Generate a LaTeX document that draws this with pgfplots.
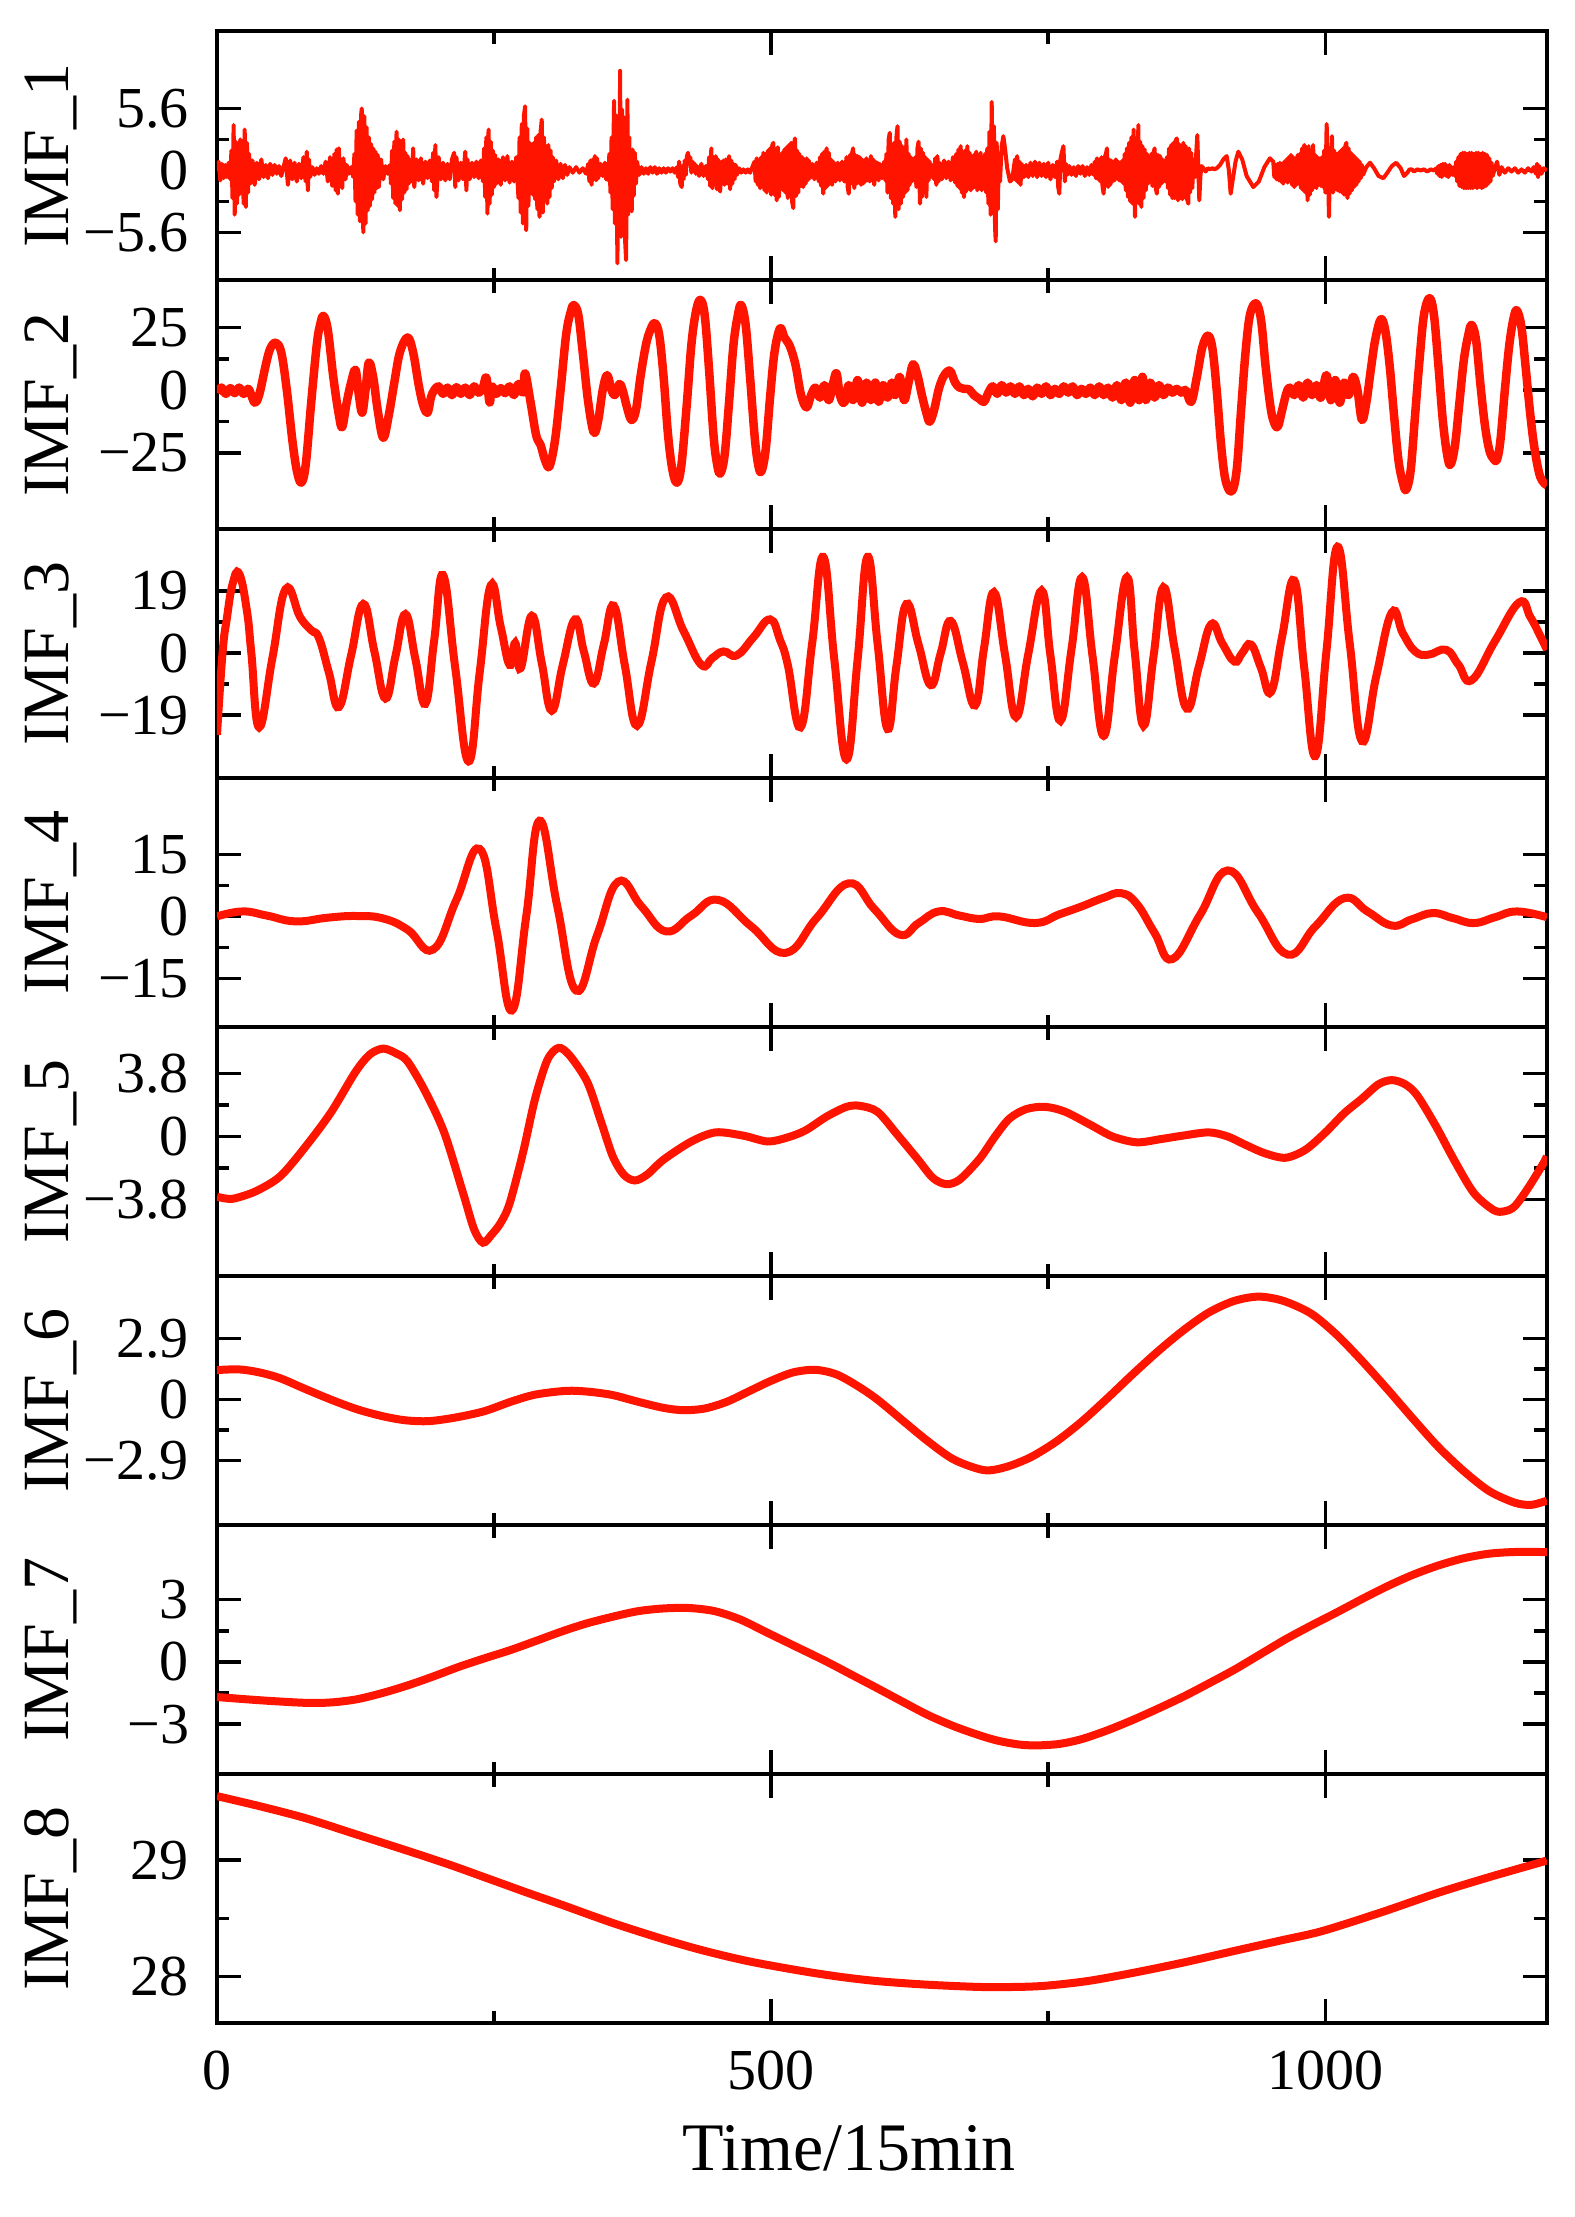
\documentclass[border=0pt]{standalone}
\usepackage{fontspec}
\setmainfont{Liberation Serif}
\usepackage{pgfplots}
\pgfplotsset{compat=1.18}
\usepgfplotslibrary{groupplots}
\definecolor{imf}{RGB}{255,20,0}
\begin{document}
\begin{tikzpicture}
\begin{groupplot}[
  group style={group size=1 by 8, vertical sep=0pt, xticklabels at=edge bottom, group name=group},
  width=266pt, height=49.8pt, scale only axis,
  xmin=0, xmax=1200,
  xtick={0,500,1000}, minor xtick={250,750},
  xticklabels={0,500,1000},
  tick align=inside,
  major tick length=4.8pt, minor tick length=2.5pt,
  every tick/.style={black, line width=0.7pt},
  axis line style={line width=0.7pt},
  tick label style={font=\fontsize{11.6}{13}\selectfont},
  yticklabel style={inner sep=0pt, xshift=-5.4pt},
  xticklabel style={inner sep=0pt, yshift=-5.4pt},
  label style={font=\fontsize{13.2}{15}\selectfont},
  ylabel style={at={(axis description cs:-0.112,0.5)}, anchor=base},
  xlabel style={font=\fontsize{13.6}{15}\selectfont, at={(axis description cs:0.5,0)}, anchor=base, yshift=-29.4pt, xshift=-6.6pt},
]
% ---------------- IMF_1
\nextgroupplot[ylabel={IMF\_1}, ymin=-9.9, ymax=12.6, ytick={-5.6,0,5.6}, yticklabels={−5.6,0,5.6}, minor ytick={-2.8,2.8}]
\addplot[imf, line width=0.8pt, line join=round] coordinates {
(0,0)(1.5,0.8)(3,-0.9)(4.5,0.6)(6,-0.7)(7.5,0.5)(9,-0.6)(10.5,0.7)(12,-0.8)
(13,1.8)(14,-2.5)(15,4.1)(16,-4.0)(17,2.6)(18,-3.0)(19,1.9)(20,-2.2)(21,2.8)(22,-1.8)(23,2.4)(24,-3.0)(25,3.7)(26,-3.3)(27,2.5)(28,-2.0)(29,1.5)(30,-1.2)
(32,0.9)(34,-1.3)(36,0.7)(38,-0.8)(40,1.0)(42,-0.6)(44,0.5)(46,-0.7)(48,0.6)(50,-0.4)(52,0.5)(54,-0.3)(56,0.4)(58,-0.5)(60,0.3)
(62,1.1)(64,-1.3)(66,0.9)(68,-0.8)(70,0.7)(72,-1.0)(74,0.6)(76,-0.7)(78,1.2)(80,-1.0)(81,1.7)(82,-1.8)(83,1.0)(84,-0.6)
(86,0.3)(88,-0.4)(90,0.2)(92,-0.3)(94,0.4)(96,-0.3)
(98,0.8)(100,-1.0)(102,1.2)(104,-1.4)(106,1.5)(107,-1.8)(108,1.9)(109,-2.1)(110,2.0)(111,-1.3)(112,1.0)(113,-1.6)(114,1.1)(116,-0.8)(117,0.5)
(119,-0.3)(121,0.3)(123,-0.6)
(124,1.5)(125,-2.8)(126,3.6)(127,-4.0)(128,4.4)(129,-4.6)(130,5.0)(130.6,5.6)(132,-5.6)(133,4.9)(134,-4.8)(135,3.9)(136,-3.6)(137,3.0)(138,-3.2)(139,2.4)(140,-2.6)(141,2.0)(142,-2.0)(143,1.7)(144,-1.6)(145,1.4)(146,-1.5)(148,1.0)(150,-0.8)
(152,0.4)(154,-0.3)(156,0.5)
(157,-1.2)(158,1.8)(159,-2.5)(160,2.6)(161,-3.0)(162,3.5)(163,-3.2)(164,2.8)(165,-3.6)(166,2.4)(167,-2.6)(168,2.8)(169,-2.0)(170,1.6)(171,-1.7)(172,1.3)(173,-1.2)(174,1.0)
(176,-1.0)(177,2.0)(178,-1.5)(180,1.0)(182,-0.9)(184,1.1)(186,-1.2)(188,0.8)(190,-0.7)(192,0.9)(194,-1.0)(195,1.6)(196,-1.8)(197,2.3)(198,-2.4)
(200,1.2)(202,-0.8)(204,0.7)(206,-0.9)(208,0.6)(210,-0.8)(212,1.0)(214,1.6)(215,-1.5)(216,1.2)(218,-0.9)(220,0.7)(222,-0.8)(224,1.7)(225,-1.8)(226,1.0)(228,-0.8)
(230,0.7)(232,-0.6)(234,0.8)(236,-0.7)(238,0.9)(240,-1.0)
(241,2.0)(242,-2.4)(243,3.0)(244,-3.9)(245,3.7)(246,-3.0)(247,2.6)(248,-2.2)(249,1.8)(250,-1.5)(251,1.4)(252,-1.2)
(254,1.0)(256,-1.3)(258,1.2)(260,-0.9)(262,1.3)(264,-1.1)(266,0.8)(268,-1.0)(270,1.2)
(272,-2.5)(273,3.0)(274,-3.8)(275,4.2)(276,-4.8)(277,5.0)(278,5.8)(279,-5.4)(280,3.8)(281,-3.2)(282,2.5)
(283,-2.0)(284,1.5)(285,-2.2)(286,2.5)(287,-2.6)(288,3.0)(289,-3.5)(290,3.2)(291,-4.2)(292,3.5)(293,4.6)(294,-3.8)(295,3.0)(296,-2.6)(297,2.2)(298,-3.0)(299,2.3)(300,-2.4)(301,1.8)(302,-1.6)(303,1.2)(304,-1.0)
(306,0.9)(308,-0.8)(310,0.6)(312,-0.7)(314,0.5)(316,-0.4)(318,0.3)
(321,-0.2)(324,0.3)(327,-0.2)(330,0.2)(333,-0.3)
(335,0.6)(336,-1.0)(337,0.9)(338,-1.3)(339,1.0)(340,-0.8)(341,1.3)(342,-0.9)(343,1.1)(344,-0.7)(346,0.6)(348,-0.5)
(350,0.7)(351,-0.8)(352,0.6)(353,-0.9)
(354,1.5)(355,-2.0)(356,3.0)(357,-3.5)(358,4.5)(358.3,6.3)(359,-4.8)(360,5.0)(361.3,-8.4)(362,4.0)(363,-5.5)(363.7,9.0)(364.5,-6.0)(365.5,5.5)(366.5,-5.0)(367.5,4.8)(368.3,-6.5)(369.1,-8.1)(370.3,6.4)(371,-4.0)(372,3.0)(373,-2.8)(374.2,-3.7)(375,1.9)(376,-2.3)(377,1.6)(378,-1.2)(379,0.8)
(381,-0.4)(383,0.3)(385,-0.3)(387,0.2)(389,-0.3)(391,0.3)(393,-0.2)(395,0.3)(397,-0.3)(399,0.2)(401,-0.2)(403,0.2)(405,-0.2)(407,0.2)(409,-0.1)(411,0.2)(413,-0.2)(415,0.3)
(416,-0.6)(417,0.8)(418,-1.2)(419.3,-1.5)(420,0.4)(421,-0.8)(422,0.9)(423,-0.4)(424,1.3)(425,1.6)(426,0.6)(427,1.2)(428,-0.2)(429,0.8)(430,0.3)(431,0.6)(432,-0.3)(433,0.4)
(435,-0.5)(437,0.6)(439,-0.5)(441,0.4)
(443,-0.8)(444,1.2)(445,-1.4)(446,2.0)(447,-1.6)(448,1.2)(449,-1.0)(450,1.3)(451,-1.7)(452,1.0)(453,-1.5)(454,-1.9)(455,0.8)(456,-1.2)(457,0.9)(458,-1.3)(459,1.0)(461,-1.2)(462,1.3)(463,-1.7)(464,0.9)(465,-1.2)(466,0.6)(467,-0.8)(468,0.5)(469,-0.4)
(471,0.2)(473,-0.2)(475,0.1)(477,-0.2)(479,0.1)(481,-0.2)(483,0.3)
(485,0.8)(486,-1.0)(487,1.1)(488,-1.3)(489,0.9)(490,-1.6)(491,1.2)(492,-1.4)(493,1.6)(494,-1.8)(495,1.5)(496,-2.0)(497,1.8)(498,-1.7)(499,2.0)(500,-2.2)(501,2.3)(502,2.5)(503,-2.2)(504,1.9)(505,-2.7)(506,2.1)(507,-2.4)(508,1.4)(509,-1.2)(510,1.6)(511,-1.8)(512,1.9)(513,-2.0)(514,2.1)(515,-2.5)(516,2.3)(517,-2.2)(518,2.5)(519,-2.9)(520,-3.4)(521,2.6)(521.5,2.9)(522.5,-2.3)(523.5,1.8)(524.5,-2.0)(525.5,1.5)(527,-1.4)(528,1.2)(529,-1.5)(530,1.0)(531,-1.2)(532,1.1)(533,-0.9)(534,0.9)(535,-0.7)
(537,0.6)(539,-0.8)(541,0.7)(543,-1.0)(544,1.2)(545,-1.4)(546,1.5)(547,-2.1)(548,1.7)(549,-1.6)(550,2.0)(551,-1.4)(552,1.6)(553,-1.2)(554,1.0)(555,-1.3)(556,0.8)(558,-1.0)(560,0.7)(562,-0.9)(564,0.8)(566,-1.0)(568,1.2)(569,-1.5)(570,-2.1)(571,1.4)(572,-1.2)(573,1.6)(574,2.0)(575,-1.6)(576,1.4)(577,-1.2)(578,1.3)(579,-1.1)(580,1.2)(581,-1.3)(582,1.0)(583,-1.2)(584,0.9)(585,-1.0)(586,1.1)(587,-0.9)(588,0.8)(589,-1.0)(590,1.3)(591,-0.9)(592,1.0)(593,-1.3)(594,0.8)(595,-0.8)(596,0.7)(597,-0.9)(598,0.6)(600,-0.7)(602,0.8)(603,-0.9)
(604,1.5)(605,-2.0)(606,2.8)(607,3.4)(608,-2.5)(609,2.0)(610,-3.0)(611,2.5)(612,-4.2)(613,3.0)(614,4.0)(615,-3.5)(616,2.6)(617,-3.0)(618,2.2)(619,-2.4)(620,1.6)(621,-2.0)(622,2.8)(623,-1.8)(624,1.5)(625,-1.3)(626,1.2)(627,-1.0)(628,0.8)
(629,-0.6)(630,1.2)(631,-1.5)(632,2.0)(633,2.6)(634.3,-3.0)(635,2.0)(636,-2.4)(637,1.6)(638,-1.8)(639,1.2)(640,-2.4)(641,1.0)(642,-0.9)(643,0.8)(644,-0.6)(645,0.5)
(647,-0.8)(648,1.1)(649,-1.3)(650,1.3)(651,-1.0)(652,0.7)(654,-0.8)(656,0.9)(658,-0.7)(660,0.8)(662,-0.9)(664,1.2)(666,-1.1)(667,1.5)(668,-1.4)(669,1.9)(670,-1.6)(671,2.2)(672,-2.0)(673,1.6)(674,-2.4)(675,1.8)(676,-1.9)(677,2.2)(678,-1.5)(679,1.6)(680,-1.8)(681,1.3)(682,-1.6)(683,1.4)(684,-1.5)(685,1.7)(686,-1.8)(687,1.3)(688,-1.4)(689,1.6)(690,-1.8)(691,1.2)(692,-1.3)(693,1.5)(694,-2.0)
(695,2.0)(696,-3.0)(697,3.5)(698,-4.0)(699,6.2)(700,-3.5)(701,4.0)(702,-5.1)(702.6,-6.4)(703.5,2.5)(704.5,-3.5)(705.5,1.5)(706.5,-1.0)(708,2.2)(709.5,3.1)(711,2.0)
(713,0.2)(715.5,-1.0)(717.5,-0.8)(719,0.3)
(720,1.0)(721,-0.9)(722,1.3)(723,-1.1)(724,0.8)(725,-1.3)(726,0.6)(728,-0.6)(730,0.5)(732,-0.6)(734,0.7)(736,-0.5)(738,0.8)(740,-0.6)(742,0.7)(744,-0.5)(746,0.6)(748,-0.6)(750,0.7)(752,-0.8)(754,0.5)(756,-0.6)(758,0.8)(759,-1.5)(760,-2.1)(761,1.0)(762,1.5)(763.7,2.2)(765,-1.0)(766,0.6)(767,-0.4)
(769,0.4)(771,-0.4)(773,0.3)(775,-0.5)(777,0.4)(779,-0.3)(781,0.4)(783,-0.5)(785,0.3)(787,-0.4)(789,0.5)(791,-0.4)
(792,0.8)(793,-0.7)(794,1.1)(795,-0.8)(796,0.9)(797,-1.0)(798,1.2)(799,-1.5)(800,-2.1)(801,1.2)(802,1.5)(803,2.0)(804,-1.5)(805,1.0)(806,-1.3)(807,0.9)(808,-1.0)(809,0.8)(810,-0.9)(811,1.0)(812,-0.7)(813,0.8)(814,-0.9)(815,0.7)(816,-1.0)(817,0.9)
(818,-1.2)(819,1.5)(820,-1.8)(821,2.0)(822,-2.4)(823,2.5)(824,-2.8)(825,3.0)(826,-3.0)(827,3.7)(828.3,-4.2)(829,2.9)(830,-2.8)(831.3,4.1)(832,-3.0)(833,2.6)(834,-3.3)(835,2.2)(836,-2.5)(837,1.9)(838,-1.8)(839,1.5)
(840,-1.2)(841,1.2)(842,-1.0)(843,1.5)(844,-1.4)(845,1.6)(846,2.0)(847,-1.6)(848,-2.1)(849,1.4)(850,-1.5)(851,1.3)(852,-1.2)(853,1.0)(854,-1.0)(855,0.9)(856,-1.0)(857,1.2)
(858,-1.6)(859,2.0)(860,-2.2)(861,2.3)(862,-2.5)(863,2.5)(864,-2.5)(865,2.7)(866,2.9)(867,-2.7)(868,2.4)(869,-2.5)(870,2.2)(871,-2.6)(872,2.5)(873,-2.4)(874,2.2)(875,-2.5)(876.4,-3.0)(877,2.0)(878,-2.0)(879,1.6)(880,-1.6)(881,1.0)
(882.5,-0.6)(883.5,1.5)(884.5,3.2)(885.3,0.5)(886.3,-2.7)(887.3,-0.5)(888.3,0.4)
(890,0.2)(892,-0.1)(894,0.2)(896,0.1)(898,0.2)(900,0.1)(902,0.2)(905,0.5)(908,1.0)
(911,1.3)(913,0.0)(914.6,-2.1)(917,-0.5)(919,0.8)(921.5,1.7)(925,1.0)(929,-0.5)(935,-1.5)(940,-1.0)(945,0.3)(950,1.1)(953,0.8)
(954,-0.6)(955,0.5)(956,-0.8)(957,0.6)(958,-0.9)(959,0.7)(960,-1.0)(961,0.6)(962,-1.2)(963,0.8)(964,-0.9)(965,1.0)(966,-1.1)(967,1.2)(968,-1.0)(969,1.4)(970,-1.3)(971,1.2)(972,-1.5)(973,1.1)(974,-1.3)(975,1.4)(976,-1.2)(977,1.5)(978,-1.6)(979,2.0)(980,-1.8)(981,2.3)(982,-2.0)(983,2.1)(984,-2.7)(985,2.2)(986,-2.2)(987,1.6)(988,-1.8)(989,2.3)(990,-1.5)(991,1.4)(992,-1.6)(993,1.2)(994,-1.3)(995,1.1)(996,-1.4)(997,1.2)(998,-1.5)
(999,1.8)(1000,-2.0)(1001.2,4.2)(1002.2,1.0)(1003.3,-4.2)(1004.3,1.5)(1005,-1.6)(1006,3.1)(1007,-2.0)
(1008,1.8)(1009,-1.7)(1010,1.5)(1011,-1.8)(1012,1.6)(1013,-1.9)(1014,1.8)(1015,-2.0)(1016,2.0)(1017,-2.2)(1018,2.2)(1019,2.5)(1020,-2.5)(1021,2.0)(1022,-2.1)(1023,1.6)(1024,-1.8)(1025,1.4)(1026,-1.5)(1027,1.2)(1028,-1.3)(1029,1.0)(1030,-1.0)(1031,0.8)(1032,-0.7)(1033,0.5)(1034,-0.4)
(1037,0.3)(1040.3,0.7)(1044,0.2)(1048,-0.5)(1052.4,-0.7)(1056,-0.2)(1060,0.4)(1064,0.7)(1068,0.2)(1071,-0.5)(1074,-0.2)(1076,0.1)
(1078,0.1)(1080,-0.1)(1083,0.1)(1086,0.0)(1089,0.1)(1092,-0.1)(1095,0.1)(1098,0.0)(1100,0.2)
(1101,-0.3)(1102,0.4)(1103,-0.5)(1104,0.5)(1105,-0.6)(1106,0.6)(1107,-0.4)(1108,0.6)(1109,-0.5)(1110,0.4)(1111,-0.6)(1112,0.5)(1113,-0.4)(1114,0.3)(1115,-0.4)(1116,0.3)(1117,-0.5)
(1118,0.8)(1119,-1.0)(1120,1.2)(1121,-1.4)(1122,1.5)(1123,-1.5)(1124,1.6)(1125,-1.6)(1126,1.6)(1127,-1.6)(1128,1.5)(1129,-1.6)(1130,1.6)(1131,-1.6)(1132,1.6)(1133,-1.6)(1134,1.5)(1135,-1.5)(1136,1.6)(1137,-1.6)(1138,1.6)(1139,-1.5)(1140,1.5)(1141,-1.6)(1142,1.6)(1143,-1.5)(1144,1.5)(1145,-1.4)(1146,1.4)(1147,-1.2)(1148,1.1)(1149,-1.0)(1150,0.7)(1151,-0.5)
(1153,0.2)(1155,0.8)(1157,-0.4)(1159,0.3)(1162,-0.2)(1165,0.2)(1168,-0.1)(1171,0.2)(1174,-0.2)(1177,0.1)(1180,-0.2)(1183,0.2)(1186,-0.1)(1188,0.3)(1190,-0.3)(1191,0.6)(1192,-0.6)(1193,0.4)(1195,-0.3)(1197,0.2)(1200,0.0)
};
% ---------------- IMF_2
\nextgroupplot[ylabel={IMF\_2}, ymin=-55.4, ymax=43.9, ytick={-25,0,25}, yticklabels={−25,0,25}, minor ytick={-12.5,12.5}]
\addplot[imf, line width=1.7pt, smooth, tension=0.6, line join=round] coordinates {
(0,-1.0)(4,1.0)(8,-1.5)(12,0.8)(16,-1.2)(20,1.0)(24,-1.5)(28,0.5)(30,-0.8)(34,-5.0)(38,-2.0)
(44,10)(48,16.5)(53,18.9)(58,15)(63,0)(68,-20)(72,-32)(76,-36.9)(80,-30)(85,-5)(90,18)(93,26)(96,29.6)(100,24)(105,5)(110,-10)(113,-14.7)(117,-5)(121,3)(125,8.1)(128,-2)(131,-9.0)(134,0)(137,11.0)(141,5)(145,-8)(150,-19.0)(155,-10)(160,3)(165,15)(172,21.0)(177,15)(182,2)(186,-6)(190,-9.0)(193,-3)(196,0)
(200,1.5)(204,-1.5)(208,1.0)(212,-2.0)(216,1.2)(220,-1.5)(224,1.0)(228,-2.0)(232,1.5)(236,-1.0)(240,1.2)(243,5.0)(246,-5.0)(248,1.5)(252,-1.5)(256,0.8)(260,-1.2)(264,1.5)(268,-2.0)(272,2.5)(276,-1.0)
(278,6.7)(283,-5)(288,-18)(292,-21.9)(296,-28)(300,-30.4)(305,-20)(310,0)(315,22)(319,31)(322,33.9)(326,30)(330,15)(335,-5)(340,-16.9)(344,-12)(348,0)(352,6.0)(356,0)(359,-2)(363,2.4)(366,0)(370,-7)(374,-11.9)(378,-8)(382,5)(387,18)(391,24)(395,26.7)(399,22)(403,5)(407,-18)(411,-32)(415,-36.9)(419,-30)(424,-5)(428,18)(432,31)(436,36.0)(440,30)(444,8)(448,-18)(451,-29)(454,-33.3)(458,-26)(462,-5)(466,18)(470,30)(473,33.9)(477,26)(481,5)(485,-18)(488,-29)(491,-32.6)(495,-24)(499,-3)(503,15)(508,24.6)(512,21)(517,17.4)(522,10)(527,-2)(532,-6.9)(536,-2)(540,1.0)
(544,-3)(548,2)(552,-4)(556,3)(559,6.7)(562,-2)(566,-5)(570,2)(574,-4)(578,4)(582,-5)(586,3)(590,-4)(594,3)(597,-4.7)(601,2)(605,-3)(609,3)(612,-2)(616,5.3)(620,-4)(624,3)(628,10.3)(632,6)(636,-2)(640,-9)(643,-12.6)(647,-8)(651,0)(655,5)(659,7.4)(662,7.4)(666,3)(670,1)(674,0.5)(678.5,0.3)(683,-2)(688,-3.5)(692,-4.7)(696,-1)
(700,1.5)(704,-1.5)(708,2)(712,-1)(716,1.5)(720,-1.5)(724,1.5)(728,-2)(732,0.5)(736,-2.5)(740,1)(744,-1.5)(748,1.5)(752,-2)(756,0.5)(760,-1.5)(764,1.5)(768,-1)(772,1.5)(776,-2)(780,0.5)(784,-1.5)(788,1)(792,-2)(796,1.5)(800,-2)(804,1)(808,-3)(812,2)(816,-4)(820,3)(824,-5)(828,4)(832,-4)(835,5.3)(838,-4)(842,3)(846,-3)(850,2)(854,-2)(858,1)(862,-1)(866,0.5)(870,-1)(874,0)(879,-4.7)
(884,5)(889,17)(894,21.7)(898,17)(902,0)(906,-22)(910,-36)(915.5,-40.4)(920,-32)(924,-8)(928,15)(932,30)(937.5,34.6)(942,28)(946,10)(950,-5)(953,-12)(957,-14.7)(961,-8)(965,-1)(968,1.0)
(972,-2)(976,2)(980,-3)(984,3)(988,-2)(992,2)(996,-3)(1001,6.0)(1005,-4)(1009,4)(1013,-5)(1017,3)(1021,-2)(1025,5.3)(1029,0)(1033,-11.9)(1037,-5)(1041,8)(1045,20)(1050,28.2)(1054,24)(1058,10)(1062,-10)(1066,-28)(1070,-37)(1073,-39.7)(1077,-32)(1081,-10)(1085,12)(1089,30)(1094,36.7)(1098,30)(1102,10)(1106,-12)(1110,-26)(1113,-29.7)(1117,-22)(1121,-5)(1125,12)(1129,22)(1132,26.0)(1136,20)(1140,2)(1144,-14)(1148,-24)(1152,-27.6)(1155,-27.6)(1158,-20)(1162,0)(1166,18)(1170,29)(1173,31.7)(1177,25)(1181,8)(1185,-10)(1189,-24)(1194,-34.7)(1200,-38)
};
% ---------------- IMF_3
\nextgroupplot[ylabel={IMF\_3}, ymin=-38.2, ymax=37.9, ytick={-19,0,19}, yticklabels={−19,0,19}, minor ytick={-9.5,9.5}]
\addplot[imf, line width=1.6pt, smooth, tension=0.75] coordinates {
(0,-25)(5,0)(9,10.8)(14,21)(20,24.3)(27,12.9)(31,0)(38,-22.7)(50,-1.5)(62,19.6)(75,11)(85,7)(92,4.6)(101,-6)(110,-16.5)(121,-0.7)(132,15.0)(142,0.5)(152,-13.9)(161,-1)(170,11.9)(179,-1.8)(188,-15.5)(196,4)(204,23.8)(215,-4.6)(227,-33.1)(237,-6)(247,20.7)(256,8)(264,-3.6)(269,3.1)(274,-4.6)(284,11.4)(293,-3)(302,-17.6)(312,-3.6)(323,10.3)(331,0.5)(340,-9.3)(349,2.6)(358,14.5)(368,-3.8)(379,-22.2)(392,-2.6)(405,17.0)(421,6.7)(437,-3.6)(447,-1.5)(457,0.5)(469,-0.7)(484,4.8)(499,10.3)(508,4)(515,-3.6)
(526.5,-22.7)(537,3)(547,29.4)(557,-2)(568,-32.5)(578,-2)(587,29.4)(596,3)(605,-23.2)(613,-4)(622,15.0)(633,2.6)(644,-9.8)(653,0)(662,9.8)(673,-3)(684,-16.0)(692,1.3)(701,18.6)(711,-0.5)(721,-19.6)(732,-0.3)(744,19.1)(752,-0.8)(761,-20.7)(771,1.2)(780.6,23.2)(790,-1)(800,-25.3)(810,-1)(821,23.2)(828,0.5)(836,-22.2)(845,-1)(854,20.1)(864,1.5)(875,-17.0)(886,-4)(897,8.8)(907,3)(918,-2.6)(925,0)(933,2.6)(942,-4.6)(951,-11.9)(961,5)(972,22.2)(981,-4.6)(991,-31.5)(1001,0.5)(1011,32.5)(1022,3)(1033,-26.9)(1046,-7)(1060,12.4)(1070,6)(1081,0.5)(1093,-0.5)(1109,1.0)(1120,-3.5)(1132,-8.3)(1153,3.6)(1175,15.5)(1185,11)(1194,5.2)(1200,1)
};
% ---------------- IMF_4
\nextgroupplot[ylabel={IMF\_4}, ymin=-26.7, ymax=33.4, ytick={-15,0,15}, yticklabels={−15,0,15}, minor ytick={-7.5,7.5}]
\addplot[imf, line width=1.6pt, smooth, tension=0.75] coordinates {
(0,0)(23,1.2)(45,0.2)(71,-1.2)(100,-0.3)(126,0.1)(150,-0.5)(172,-3.2)(195,-8.0)(216,4)(237,16.3)(252,-3)(266,-22.7)(279,0)(291,23.1)(307,2.5)(324,-17.9)(343,-4.5)(362,8.4)(383,2.4)(405,-3.6)(428,0.2)(452,4.0)(482,-2.4)(513,-8.8)(541,-0.4)(570,8.0)(593,1.8)(616,-4.4)(633,-1.6)(651,1.2)(670,0.2)(688,-0.6)(706,0)(738,-1.6)(760,0.5)(780,2.4)(800,4.5)(816,5.6)(830,3)(846,-4)(862,-10.3)(887,0.4)(912,11.1)(939,1)(966,-9.2)(991,-2.4)(1017,4.4)(1038,1.2)(1060,-2.2)(1078,-0.7)(1097,0.8)(1115,-0.4)(1134,-1.6)(1153,-0.2)(1173,1.2)(1200,-0.2)
};
% ---------------- IMF_5
\nextgroupplot[ylabel={IMF\_5}, ymin=-8.41, ymax=6.6, ytick={-3.8,0,3.8}, yticklabels={−3.8,0,3.8}, minor ytick={-1.9,1.9}]
\addplot[imf, line width=1.6pt, smooth] coordinates {
(0,-3.63)(8,-3.74)(16,-3.73)(35,-3.3)(57,-2.40)(80,-0.6)(103,1.47)(125,3.9)(138,4.95)(150,5.3)(162,5.0)(172,4.52)(188,2.7)(205,0.24)(222,-3.4)(232,-5.6)(240,-6.4)(248,-5.9)(256,-5.2)(264,-4.04)(276,-1.0)(287,2.28)(298,4.6)(308,5.34)(318,4.9)(334,3.30)(346,1.0)(357,-1.18)(367,-2.3)(377,-2.65)(388,-2.3)(403,-1.39)(428,-0.3)(450,0.25)(475,0.05)(497,-0.3)(515,-0.05)(531,0.37)(550,1.2)(568,1.79)(580,1.85)(596,1.49)(614,0.1)(632,-1.35)(646,-2.5)(658,-2.87)(670,-2.6)(688,-1.35)(702,0.0)(715,1.08)(730,1.65)(747,1.79)(765,1.5)(789,0.67)(808,0.0)(830,-0.35)(852,-0.15)(872,0.06)(895,0.25)(912,0.0)(927,-0.47)(945,-1.0)(964,-1.28)(982,-0.8)(1000,0.24)(1017,1.4)(1033,2.28)(1048,3.15)(1060,3.40)(1072,3.15)(1083,2.47)(1100,0.6)(1116,-1.39)(1134,-3.4)(1152,-4.44)(1162,-4.5)(1171,-4.2)(1183,-3.1)(1196,-1.7)(1200,-1.2)
};
% ---------------- IMF_6
\nextgroupplot[ylabel={IMF\_6}, ymin=-5.96, ymax=5.88, ytick={-2.9,0,2.9}, yticklabels={−2.9,0,2.9}, minor ytick={-1.45,1.45}]
\addplot[imf, line width=1.6pt, smooth] coordinates {
(0,1.41)(20,1.44)(38,1.3)(57,1.02)(80,0.5)(103,0)(126,-0.45)(149,-0.78)(170,-0.98)(191,-1.02)(215,-0.85)(241,-0.55)(265,-0.1)(287,0.24)(315,0.42)(335,0.38)(357,0.22)(380,-0.1)(403,-0.39)(421,-0.5)(440,-0.42)(460,-0.1)(480,0.4)(500,0.9)(520,1.3)(540,1.42)(559,1.2)(578,0.65)(596,0)(620,-1.05)(642,-2.0)(665,-2.85)(692,-3.35)(712,-3.2)(734,-2.74)(757,-2.0)(780,-1.05)(803,0.05)(826,1.2)(849,2.3)(872,3.3)(895,4.15)(918,4.7)(940,4.9)(962,4.7)(987,4.1)(1010,3.1)(1033,1.85)(1056,0.5)(1079,-0.9)(1102,-2.25)(1125,-3.4)(1148,-4.35)(1171,-4.9)(1186,-5.0)(1200,-4.8)
};
% ---------------- IMF_7
\nextgroupplot[ylabel={IMF\_7}, ymin=-5.4, ymax=6.6, ytick={-3,0,3}, yticklabels={−3,0,3}, minor ytick={-1.5,1.5}]
\addplot[imf, line width=1.6pt, smooth] coordinates {
(0,-1.69)(40,-1.85)(80,-1.97)(103,-1.95)(126,-1.8)(149,-1.5)(172,-1.13)(195,-0.7)(218,-0.24)(241,0.17)(264,0.56)(287,1.0)(310,1.45)(333,1.85)(357,2.18)(380,2.45)(403,2.58)(426,2.6)(449,2.45)(472,2.05)(495,1.45)(520,0.8)(549.5,0.03)(572,-0.6)(595.6,-1.26)(618,-1.9)(641.6,-2.56)(665,-3.1)(687.6,-3.53)(705,-3.8)(724,-3.98)(740,-4.02)(760,-3.95)(780,-3.72)(803,-3.3)(826,-2.80)(849,-2.25)(872,-1.67)(895,-1.03)(918,-0.37)(941,0.36)(964,1.09)(987,1.75)(1010,2.38)(1033,3.03)(1056,3.65)(1079,4.2)(1102,4.65)(1125,5.0)(1148,5.22)(1171,5.3)(1194,5.30)(1200,5.3)
};
% ---------------- IMF_8
\nextgroupplot[ylabel={IMF\_8}, ymin=27.6, ymax=29.74, ytick={28,29}, yticklabels={28,29}, minor ytick={28.5}, xlabel={Time/15min}]
\addplot[imf, line width=1.6pt, smooth] coordinates {
(0,29.55)(40,29.46)(80,29.36)(126,29.22)(172,29.08)(210,28.96)(248,28.83)(280,28.72)(310,28.62)(357,28.46)(403,28.32)(440,28.22)(480,28.13)(526,28.05)(560,28.0)(596,27.96)(640,27.93)(688,27.91)(720,27.91)(747,27.92)(785,27.96)(826,28.03)(872,28.12)(918,28.22)(960,28.31)(997,28.39)(1050,28.55)(1102,28.72)(1150,28.86)(1194,28.98)(1200,29.0)
};
\end{groupplot}
\pgfresetboundingbox
\path[use as bounding box] ([shift={(-43.4pt,6.2pt)}]group c1r1.north west) rectangle ([shift={(5.6pt,-38.8pt)}]group c1r8.south east);
\end{tikzpicture}
\end{document}
